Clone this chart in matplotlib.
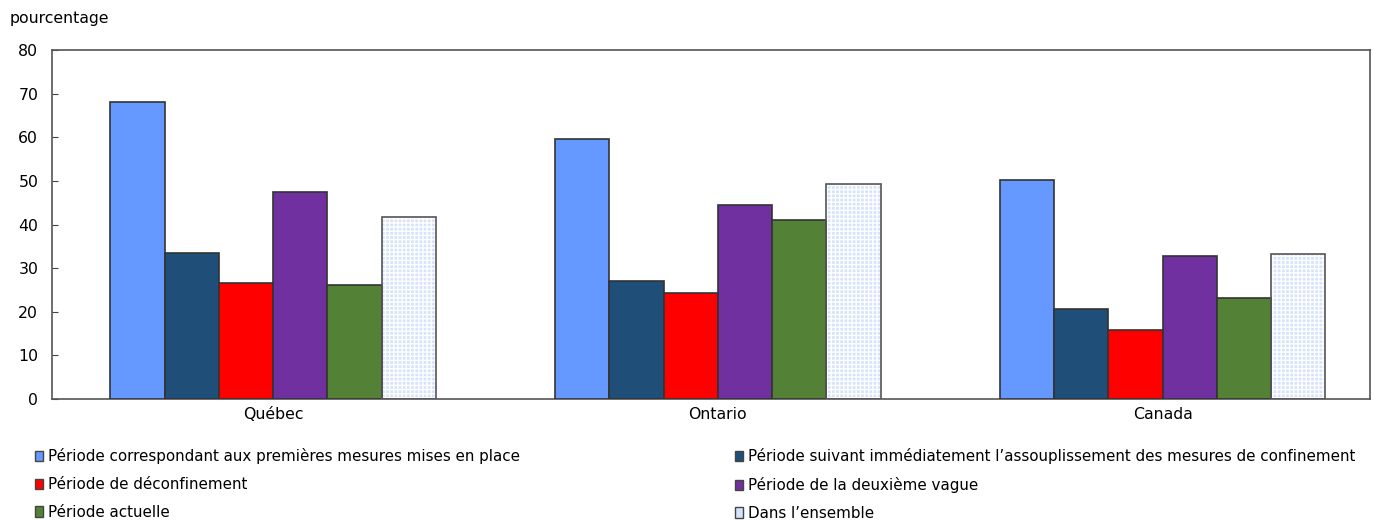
import numpy as np
import matplotlib
matplotlib.use('Agg')
import matplotlib.pyplot as plt

# Données (pourcentage)
regions = ['Québec', 'Ontario', 'Canada']
series_noms = [
    'Période correspondant aux premières mesures mises en place',
    'Période suivant immédiatement l\u2019assouplissement des mesures de confinement',
    'Période de déconfinement',
    'Période de la deuxième vague',
    'Période actuelle',
    'Dans l\u2019ensemble',
]
premieres = [68.0, 59.6, 50.2]
assouplissement = [33.5, 27.1, 20.6]
deconfinement = [26.6, 24.3, 15.8]
deuxieme_vague = [47.5, 44.5, 32.8]
actuelle = [26.1, 41.1, 23.2]
ensemble = [41.7, 49.3, 33.3]

valeurs = [premieres, assouplissement, deconfinement, deuxieme_vague, actuelle, ensemble]
couleurs = ['#6699ff', '#1f4e79', '#ff0000', '#7030a0', '#538135', '#d6e3fb']

plt.rcParams['font.family'] = ['DejaVu Sans']
fs = 11.3

fig = plt.figure(figsize=(13.73, 5.2), dpi=100)
ax = fig.add_axes([0.0379, 0.2327, 0.9599, 0.6711])

x = np.arange(len(regions))
largeur = 0.122
handles = []
for i, (vals, coul) in enumerate(zip(valeurs, couleurs)):
    pos = x + (i - 2.5) * largeur
    if i == 5:
        # barre pointillée (motif clair)
        ax.bar(pos, vals, width=largeur, color=coul, edgecolor='white',
               hatch='++++', linewidth=0, zorder=2)
        ax.bar(pos, vals, width=largeur, fill=False, edgecolor='#555555',
               linewidth=1.2, zorder=3)
    else:
        ax.bar(pos, vals, width=largeur, color=coul, edgecolor='#333333',
               linewidth=1.2, zorder=3)
    handles.append(plt.Rectangle((0, 0), 1, 1, facecolor=coul,
                                 edgecolor='#444444', linewidth=1))

ax.set_xlim(-0.497, 2.466)
ax.set_ylim(0, 80)
ax.set_yticks(range(0, 81, 10))
ax.set_xticks(x)
ax.set_xticklabels(regions, fontsize=fs)
ax.tick_params(axis='x', length=0, pad=6)
ax.tick_params(axis='y', labelsize=fs, length=4, direction='in', color='#444444', pad=10)
for s in ax.spines.values():
    s.set_color('#555555')
    s.set_linewidth(1.2)

fig.text(0.007, 0.965, 'pourcentage', fontsize=fs, ha='left', va='center')

ordre = [0, 2, 4, 1, 3, 5]
fig.legend([handles[k] for k in ordre], [series_noms[k] for k in ordre],
           loc='upper left', bbox_to_anchor=(0.021, 0.15), ncol=2,
           frameon=False, fontsize=10.9, handlelength=0.55, handleheight=0.65,
           handletextpad=0.3, columnspacing=14.2, labelspacing=0.85,
           borderaxespad=0)

fig.savefig('out.png', dpi=100)
